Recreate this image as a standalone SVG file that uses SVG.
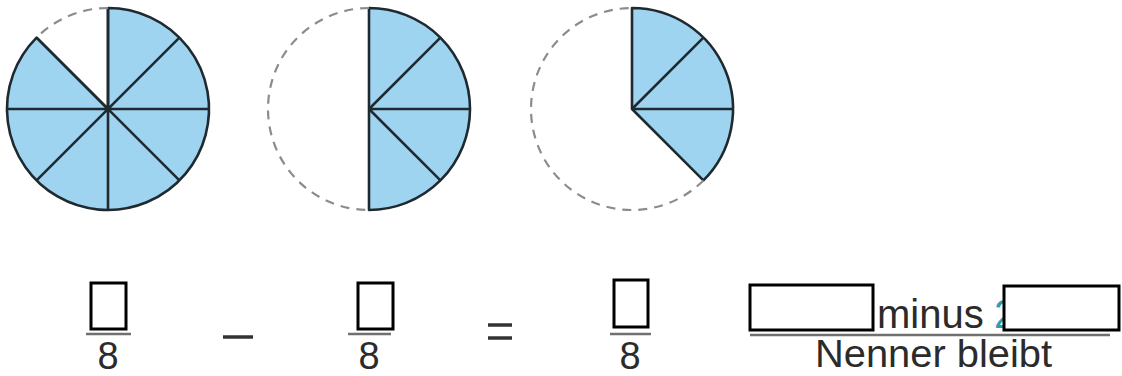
<svg xmlns="http://www.w3.org/2000/svg" width="1122" height="376" viewBox="0 0 1122 376">
<style>
.slice{fill:#9fd4f1;stroke:#1f2a30;stroke-width:2.6;stroke-linejoin:round}
.div{stroke:#1f2a30;stroke-width:2.6;fill:none}
.dash{fill:none;stroke:#8c8c8c;stroke-width:2.2;stroke-dasharray:9 7}
.box{fill:#fff;stroke:#000;stroke-width:3}
.bar{stroke:#707070;stroke-width:2.5}
.num{font-family:"Liberation Sans",Arial,sans-serif;font-size:38px;fill:#2b2b2b;text-anchor:middle}
.lbl{font-family:"Liberation Sans",Arial,sans-serif;font-size:40px;fill:#2b2b2b}
.op{stroke:#333;stroke-width:3.5}
</style>
<rect width="1122" height="376" fill="#fff"/>
<g id="pie1">
<path class="slice" d="M108,109 L108,8 A101,101 0 1 1 36.58,37.58 Z"/>
<path class="div" d="M108,8 L108,210 M7,109 L209,109 M36.58,37.58 L179.42,180.42 M179.42,37.58 L36.58,180.42"/>
<path class="dash" d="M108,8 A101,101 0 0 0 36.58,37.58"/>
</g>
<g id="pie2">
<path class="slice" d="M369,109 L369,8 A101,101 0 0 1 369,210 Z"/>
<path class="div" d="M369,109 L440.42,37.58 M369,109 L470,109 M369,109 L440.42,180.42"/>
<path class="dash" d="M369,8 A101,101 0 0 0 369,210"/>
</g>
<g id="pie3">
<path class="slice" d="M632,109 L632,8 A101,101 0 0 1 703.42,180.42 Z"/>
<path class="div" d="M632,109 L703.42,37.58 M632,109 L733,109"/>
<path class="dash" d="M703.42,180.42 A101,101 0 1 1 632,8"/>
</g>
<g id="frac1">
<rect class="box" x="91" y="283" width="35" height="46"/>
<line class="bar" x1="86" y1="334" x2="131" y2="334"/>
<text class="num" x="108" y="369">8</text>
</g>
<g id="minus-op">
<line class="op" x1="223" y1="337" x2="253" y2="337"/>
</g>
<g id="frac2">
<rect class="box" x="358" y="283" width="35" height="46"/>
<line class="bar" x1="348" y1="334" x2="391" y2="334"/>
<text class="num" x="369" y="369">8</text>
</g>
<g id="equals-op">
<line class="op" x1="488" y1="325" x2="512" y2="325"/>
<line class="op" x1="488" y1="338" x2="512" y2="338"/>
</g>
<g id="frac3">
<rect class="box" x="614" y="280" width="34" height="47"/>
<line class="bar" x1="610" y1="334" x2="651" y2="334"/>
<text class="num" x="630" y="369">8</text>
</g>
<g id="rule">
<line class="bar" x1="750" y1="335" x2="1110" y2="335"/>
<text class="lbl" x="877" y="328">minus</text>
<text class="lbl" x="994" y="328" style="fill:#2a9fb0">2</text>
<rect class="box" x="750" y="285" width="123" height="45"/>
<rect class="box" x="1004" y="286" width="115" height="44"/>
<text class="lbl" x="815" y="367" style="font-size:38px" textLength="237" lengthAdjust="spacingAndGlyphs">Nenner bleibt</text>
</g>
</svg>
